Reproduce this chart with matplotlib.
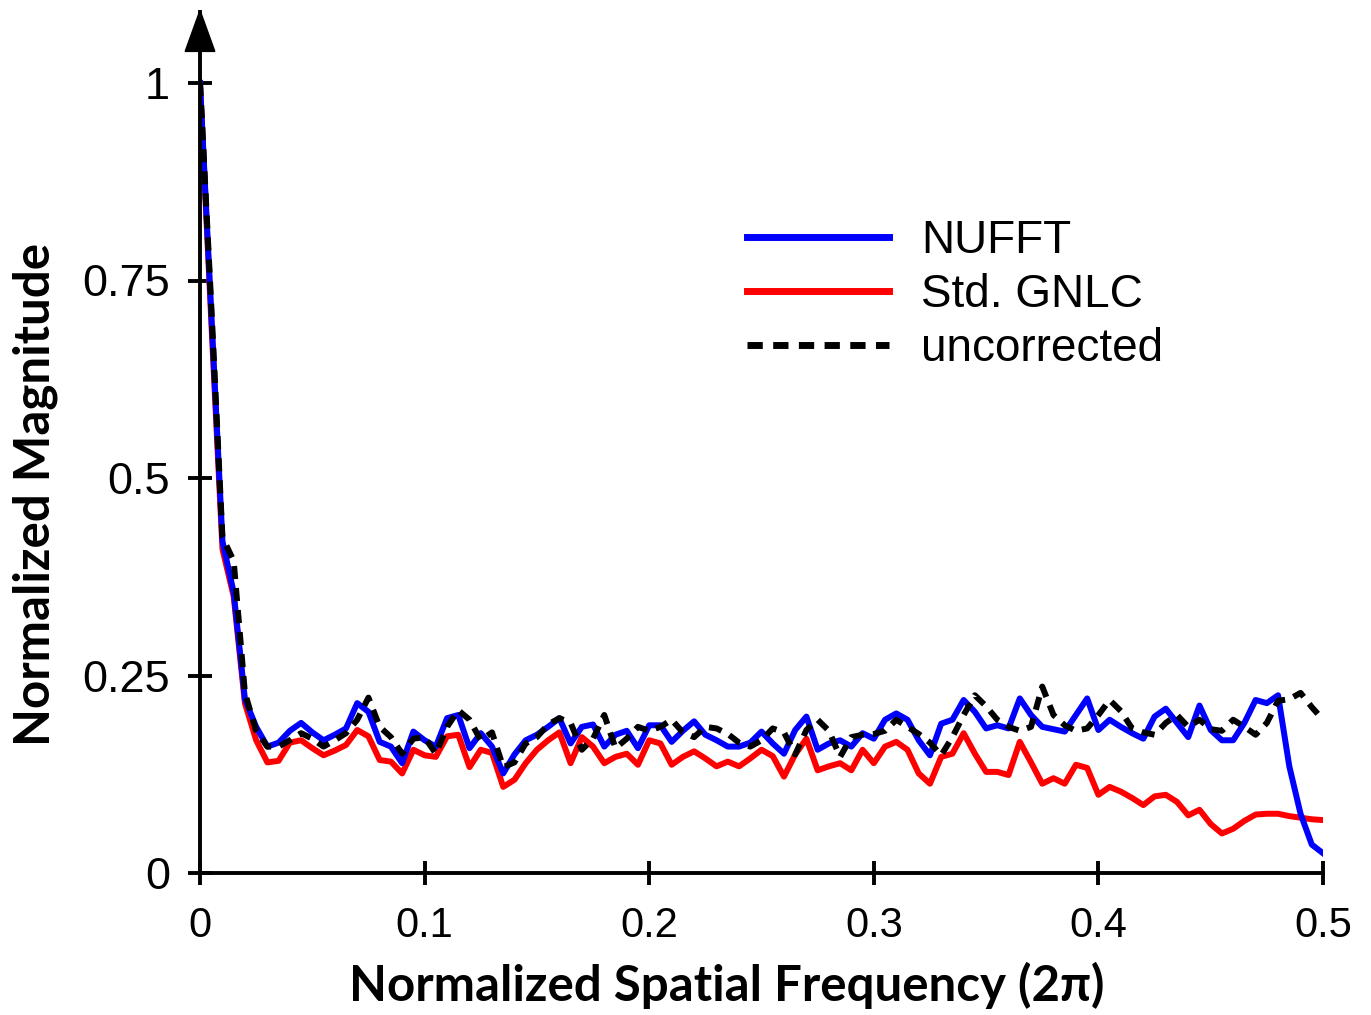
import matplotlib
matplotlib.use("Agg")
import matplotlib.pyplot as plt
from matplotlib.patches import Polygon
import numpy as np

# ---- data ----
freq = np.arange(101) * 0.005

nufft = [1.0, 0.71, 0.42, 0.355, 0.22, 0.185, 0.16, 0.165, 0.18, 0.19,
         0.178, 0.168, 0.175, 0.183, 0.215, 0.204, 0.166, 0.16, 0.139, 0.179,
         0.168, 0.16, 0.196, 0.2, 0.158, 0.177, 0.16, 0.126, 0.15, 0.168,
         0.175, 0.185, 0.196, 0.164, 0.185, 0.188, 0.16, 0.175, 0.18, 0.158,
         0.187, 0.187, 0.166, 0.18, 0.192, 0.175, 0.168, 0.16, 0.16, 0.165,
         0.179, 0.164, 0.151, 0.181, 0.198, 0.156, 0.164, 0.168, 0.16, 0.177,
         0.17, 0.194, 0.202, 0.194, 0.168, 0.149, 0.189, 0.194, 0.219, 0.204,
         0.183, 0.187, 0.183, 0.221, 0.2, 0.185, 0.182, 0.179, 0.2, 0.221,
         0.181, 0.194, 0.185, 0.177, 0.17, 0.198, 0.208, 0.19, 0.172, 0.212,
         0.181, 0.168, 0.168, 0.19, 0.219, 0.215, 0.225, 0.135, 0.075, 0.036,
         0.025]

gnlc = [1.0, 0.7, 0.41, 0.35, 0.215, 0.168, 0.14, 0.142, 0.165, 0.168,
        0.158, 0.149, 0.155, 0.162, 0.181, 0.173, 0.143, 0.141, 0.126, 0.156,
        0.149, 0.147, 0.173, 0.175, 0.134, 0.156, 0.152, 0.109, 0.118, 0.139,
        0.156, 0.168, 0.178, 0.139, 0.172, 0.16, 0.139, 0.147, 0.151, 0.137,
        0.168, 0.164, 0.137, 0.147, 0.154, 0.145, 0.135, 0.141, 0.135, 0.145,
        0.156, 0.148, 0.122, 0.15, 0.17, 0.13, 0.135, 0.139, 0.13, 0.156,
        0.139, 0.16, 0.166, 0.156, 0.126, 0.113, 0.147, 0.151, 0.177, 0.151,
        0.128, 0.128, 0.124, 0.166, 0.14, 0.113, 0.12, 0.113, 0.137, 0.133,
        0.099, 0.109, 0.103, 0.095, 0.086, 0.097, 0.099, 0.09, 0.073, 0.08,
        0.062, 0.05, 0.056, 0.066, 0.074, 0.075, 0.075, 0.072, 0.07, 0.068,
        0.067]

uncorrected = [1.0, 0.72, 0.425, 0.395, 0.228, 0.18, 0.16, 0.16, 0.168, 0.177,
               0.17, 0.16, 0.168, 0.177, 0.194, 0.222, 0.185, 0.172, 0.151, 0.17,
               0.172, 0.151, 0.185, 0.206, 0.194, 0.168, 0.178, 0.134, 0.14, 0.164,
               0.172, 0.188, 0.196, 0.19, 0.156, 0.17, 0.2, 0.158, 0.17, 0.185,
               0.18, 0.185, 0.194, 0.178, 0.172, 0.185, 0.183, 0.176, 0.165, 0.16,
               0.168, 0.183, 0.178, 0.15, 0.181, 0.194, 0.18, 0.147, 0.172, 0.175,
               0.176, 0.18, 0.194, 0.185, 0.176, 0.165, 0.149, 0.172, 0.2, 0.225,
               0.211, 0.194, 0.185, 0.18, 0.185, 0.236, 0.2, 0.187, 0.18, 0.183,
               0.2, 0.219, 0.205, 0.183, 0.178, 0.175, 0.19, 0.2, 0.185, 0.194,
               0.182, 0.18, 0.194, 0.185, 0.175, 0.19, 0.218, 0.22, 0.228, 0.21,
               0.194]

yticks = [0, 0.25, 0.5, 0.75, 1]
ytick_labels = ["0", "0.25", "0.5", "0.75", "1"]
xticks = [0, 0.1, 0.2, 0.3, 0.4, 0.5]
xtick_labels = ["0", "0.1", "0.2", "0.3", "0.4", "0.5"]

plt.rcParams['font.family'] = ['Liberation Sans', 'DejaVu Sans']

W, H = 1371, 1015
fig = plt.figure(figsize=(W / 100, H / 100), dpi=100)
ax = fig.add_axes([200 / W, 1 - 873 / H, 1123 / W, 861 / H])
ax.set_xlim(0, 0.5)
ax.set_ylim(0, 861 / 790)

ax.plot(freq, gnlc, color="#ff0000", lw=4.3, label="Std. GNLC")
ax.plot(freq, nufft, color="#0000ff", lw=4.3, label="NUFFT")
ax.plot(freq, uncorrected, color="black", lw=4.3, ls=(0, (2.2, 1.5)), label="uncorrected")

for s in ["top", "right"]:
    ax.spines[s].set_visible(False)
for s in ["left", "bottom"]:
    ax.spines[s].set_linewidth(2.8)

ax.set_yticks(yticks)
ax.set_yticklabels(ytick_labels, fontsize=32.5)
ax.set_xticks(xticks)
ax.set_xticklabels(xtick_labels, fontsize=30)
ax.tick_params(direction="inout", length=17, width=2.8)
ax.tick_params(axis="y", pad=13)
ax.tick_params(axis="x", pad=15)

# arrow head on the y axis
ax.add_patch(Polygon([(0, 1.092), (-0.0066, 1.04), (0.0066, 1.04)], closed=True,
                     color="black", clip_on=False, zorder=5))

handles, labels = ax.get_legend_handles_labels()
order = [1, 0, 2]
leg = ax.legend([handles[i] for i in order], [labels[i] for i in order],
                loc="upper left", bbox_to_anchor=(0.487, 0.76),
                frameon=False, fontsize=33, handlelength=3.1, handletextpad=0.7,
                labelspacing=0.22, borderpad=0, borderaxespad=0)
for line in leg.get_lines():
    line.set_linewidth(5)

fig.text(727 / W, 1 - 985 / H, "Normalized Spatial Frequency (2π)", ha="center", va="center",
         fontsize=35.5, fontweight="bold", family=["Lato", "DejaVu Sans"])
fig.text(35 / W, 1 - 495 / H, "Normalized Magnitude", ha="center", va="center", rotation=90,
         fontsize=35.5, fontweight="bold", family=["Lato", "DejaVu Sans"])

fig.savefig("out.png", dpi=100)
